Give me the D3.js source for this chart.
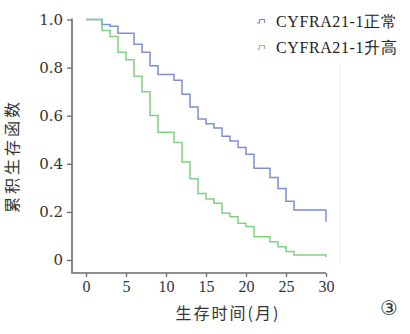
<!DOCTYPE html>
<html>
<head>
<meta charset="utf-8">
<script src="https://cdn.jsdelivr.net/npm/d3@7"></script>
<style>
  html, body { margin: 0; padding: 0; background: #fff; }
  svg { display: block; }
  .serif-a { font-family: "DejaVu Serif"; }
  .serif-b { font-family: "Liberation Serif"; }
</style>
</head>
<body>
<svg id="chart" width="410" height="334"></svg>
<script>
// Kaplan–Meier style cumulative survival curves (months)
const normalTimes = [0, 2, 3, 4, 6, 7, 8, 9, 11, 12, 13, 14, 15, 16, 17, 18, 19, 20, 21, 23, 24, 25, 26, 30];
const normalSurv  = [1.0, 0.979, 0.972, 0.943, 0.897, 0.864, 0.808, 0.771, 0.747, 0.689, 0.636, 0.586, 0.567, 0.549, 0.515, 0.495, 0.468, 0.440, 0.381, 0.343, 0.297, 0.244, 0.208, 0.159];

const highTimes = [0, 2, 3, 4, 5, 6, 7, 8, 9, 11, 12, 13, 14, 15, 16, 17, 18, 19, 20, 21, 23, 24, 25, 26, 30];
const highSurv  = [1.0, 0.954, 0.929, 0.864, 0.833, 0.764, 0.700, 0.601, 0.531, 0.489, 0.407, 0.338, 0.277, 0.254, 0.236, 0.194, 0.180, 0.153, 0.139, 0.097, 0.076, 0.055, 0.035, 0.021, 0.012];

const seriesNames = ["CYFRA21-1正常", "CYFRA21-1升高"];
const seriesColors = ["#7f8fd2", "#7fd283"];

const xTicks = [0, 5, 10, 15, 20, 25, 30];
const yTicks = [0, 0.2, 0.4, 0.6, 0.8, 1.0];
const yTickLabels = ["0", "0.2", "0.4", "0.6", "0.8", "1.0"];

const xTitle = "生存时间(月)";
const yTitle = "累积生存函数";
const panelMark = "③";

const svg = d3.select("#chart");
const axisColor = "#6a6a6a";

const x = d3.scaleLinear().domain([0, 30]).range([86, 326]);
const y = d3.scaleLinear().domain([0, 1]).range([260, 19.5]);

const axisX = 72, axisY = 273;

// faint frame edge on the right
svg.append("line")
  .attr("x1", 340).attr("x2", 340).attr("y1", 64).attr("y2", 264)
  .attr("stroke", "#efefef").attr("stroke-width", 1);

// y axis
const gy = svg.append("g").attr("transform", `translate(${axisX},0)`)
  .call(d3.axisLeft(y).tickValues(yTicks).tickSize(5).tickSizeOuter(0)
    .tickFormat((d, i) => yTickLabels[i]));
gy.attr("font-family", null).attr("font-size", null);
gy.select(".domain").remove();
gy.selectAll(".tick line").attr("stroke", axisColor).attr("stroke-width", 1.3);
gy.selectAll(".tick text")
  .attr("x", -9)
  .attr("class", "serif-a")
  .style("font-size", "15px")
  .attr("fill", "#333");

// x axis
const gx = svg.append("g").attr("transform", `translate(0,${axisY})`)
  .call(d3.axisBottom(x).tickValues(xTicks).tickSize(4).tickSizeOuter(0));
gx.attr("font-family", null).attr("font-size", null);
gx.select(".domain").remove();
gx.selectAll(".tick line").attr("stroke", axisColor).attr("stroke-width", 1.3);
gx.selectAll(".tick text")
  .attr("y", 8)
  .attr("class", "serif-b")
  .style("font-size", "16px")
  .attr("fill", "#333");

// axis lines
svg.append("path")
  .attr("d", `M${axisX},${y(1) - 1}V${axisY}H${x(30)}`)
  .attr("fill", "none").attr("stroke", axisColor).attr("stroke-width", 1.6);

// survival curves
const line = d3.line()
  .x(d => x(d[0])).y(d => y(d[1]))
  .curve(d3.curveStepAfter);

const series = [
  d3.zip(normalTimes, normalSurv),
  d3.zip(highTimes, highSurv)
];

series.forEach((pts, i) => {
  svg.append("path")
    .datum(pts)
    .attr("d", line)
    .attr("fill", "none")
    .attr("stroke", seriesColors[i])
    .attr("stroke-width", 1.5);
});

// legend
const legend = svg.append("g");
seriesNames.forEach((name, i) => {
  const ly = 22 + i * 26;
  legend.append("path")
    .attr("d", `M257,${ly + 1}h2.5v-3.5h5v3.5`)
    .attr("fill", "none").attr("stroke", seriesColors[i]).attr("stroke-width", 1.2);
  legend.append("text")
    .attr("x", 276).attr("y", ly + 5)
    .attr("class", "serif-b")
    .style("font-size", "16px")
    .style("letter-spacing", "0.6px")
    .attr("fill", "#222")
    .text(name);
});

// axis titles
svg.append("text")
  .attr("x", 228).attr("y", 319)
  .attr("text-anchor", "middle")
  .style("font-family", "'Noto Sans CJK SC', sans-serif").style("font-size", "16px")
  .style("letter-spacing", "2px")
  .attr("fill", "#333")
  .text(xTitle);

svg.append("text")
  .attr("transform", "translate(18,156) rotate(-90)")
  .attr("text-anchor", "middle")
  .style("font-family", "'Noto Sans CJK SC', sans-serif").style("font-size", "16px")
  .style("letter-spacing", "3px")
  .attr("fill", "#333")
  .text(yTitle);

svg.append("text")
  .attr("x", 389).attr("y", 315)
  .attr("text-anchor", "middle")
  .style("font-family", "'DejaVu Sans', sans-serif").style("font-size", "20px")
  .attr("fill", "#333")
  .text(panelMark);
</script>
</body>
</html>
